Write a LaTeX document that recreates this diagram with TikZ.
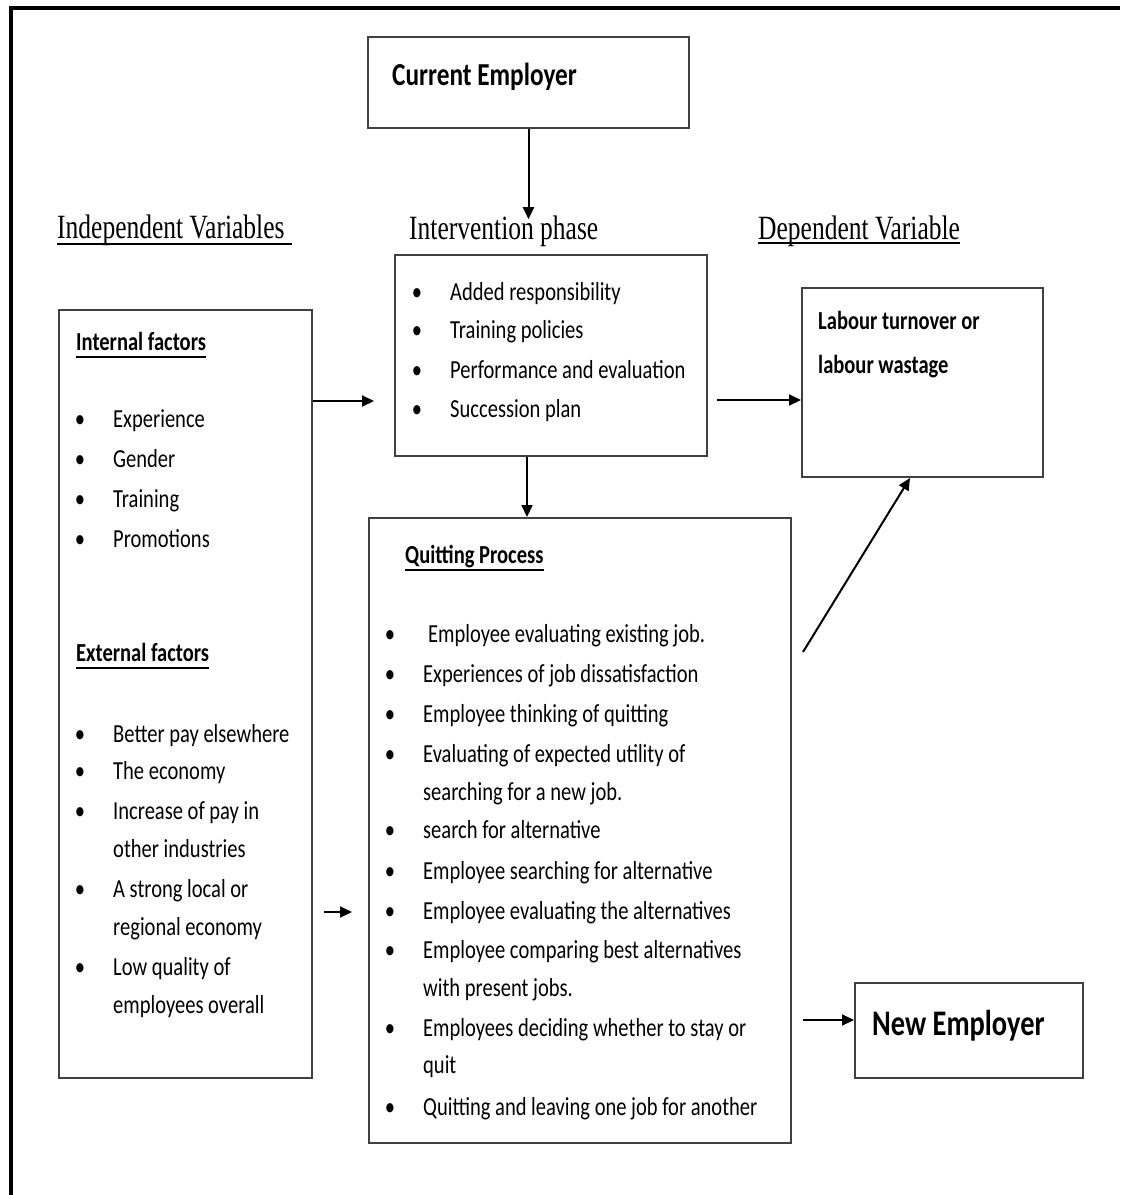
\documentclass[tikz,border=0pt]{standalone}
\usepackage{fontspec}
\setmainfont{Carlito}[FakeStretch=0.79]
\newfontfamily\headfont{Liberation Serif}[FakeStretch=0.75]
\usetikzlibrary{arrows.meta, positioning}

\begin{document}
\begin{tikzpicture}[x=1pt, y=-1pt, font=\fontsize{26}{30}\selectfont, box/.style={draw=black!75, line width=2pt, inner sep=0pt}, arr/.style={line width=2pt, -{Triangle[length=12pt, width=11pt]}}, item/.style={anchor=base west, inner sep=0pt}, bitem/.style={item, font=\fontsize{26}{30}\selectfont\bfseries}, dot/.style={anchor=base, inner sep=0pt}, head/.style={anchor=base west, inner sep=0pt, font=\fontsize{34}{40}\selectfont\headfont}, bighead/.style={anchor=base west, inner sep=0pt, font=\bfseries}, uline/.style={line width=1.8pt}]
\useasboundingbox (0,0) rectangle (1120,1195);
\draw[line width=4pt] (10.5,1195) -- (10.5,7.5) -- (1120,7.5);
% boxes
\node[box, minimum width=321pt, minimum height=91pt] (cur) at (528.5,82.5){};
\node[box, minimum width=312pt, minimum height=201pt] (iv) at (551,355){};
\node[box, minimum width=241pt, minimum height=189pt] (lab) at (922.5,382.5){};
\node[box, minimum width=253pt, minimum height=768pt] (fac) at (185.5,694){};
\node[box, minimum width=422pt, minimum height=625pt] (quit) at (580,830.5){};
\node[box, minimum width=228pt, minimum height=95pt] (new) at (969,1030.5){};
\node[bighead, font=\fontsize{32}{38}\selectfont\bfseries] (curtxt) at (392,85){Current Employer};
\node[bighead, font=\fontsize{36}{42}\selectfont\bfseries] (newtxt) at (872,1035){New Employer};
% headings
\node[head] (indep) at (57,238){Independent Variables\hspace*{7pt}};
\node[head] (interv) at (409,239){Intervention phase};
\node[head] (dep) at (758,239){Dependent Variable};
\draw[uline] ([yshift=-6pt]indep.base west) -- ([yshift=-6pt]indep.base east);
\draw[uline] ([yshift=-4pt]dep.base west) -- ([yshift=-4pt]dep.base east);
% intervention
\foreach \y/\txt in {300/Added responsibility, 338/Training policies, 378/Performance and evaluation, 417/Succession plan} {\node[dot] (ivb\y) at (417,\y){\textbullet}; \node[item] (ivt\y) at (450,\y){\txt};}
% dependent
\node[bitem] (lab1) at (818,329){Labour turnover or};
\node[bitem] (lab2) at (818,373){labour wastage};
% factors
\node[bitem] (intf) at (76,350){Internal factors};
\node[bitem] (extf) at (76,661){External factors};
\draw[uline] ([yshift=-7pt]intf.base west) -- ([yshift=-7pt]intf.base east);
\draw[uline] ([yshift=-7pt]extf.base west) -- ([yshift=-7pt]extf.base east);
\foreach \y in {427, 467, 507, 547, 742, 779, 819, 897, 975} {\node[dot] (fb\y) at (80,\y){\textbullet};}
\foreach \y/\txt in {427/Experience, 467/Gender, 507/Training, 547/Promotions, 742/Better pay elsewhere, 779/The economy, 819/Increase of pay in, 857/other industries, 897/A strong local or, 935/regional economy, 975/Low quality of, 1013/employees overall} {\node[item] (ft\y) at (113,\y){\txt};}
% quitting
\node[bitem] (qp) at (405,563){Quitting Process};
\draw[uline] ([yshift=-7pt]qp.base west) -- ([yshift=-7pt]qp.base east);
\foreach \y in {642, 682, 722, 762, 838, 879, 919, 958, 1036, 1115} {\node[dot] (qb\y) at (390,\y){\textbullet};}
\node[item] (qt642) at (428,642){Employee evaluating existing job.};
\foreach \y/\txt in {682/Experiences of job dissatisfaction, 722/Employee thinking of quitting, 762/Evaluating of expected utility of, 800/searching for a new job., 838/search for alternative, 879/Employee searching for alternative, 919/Employee evaluating the alternatives, 958/Employee comparing best alternatives, 996/with present jobs., 1036/Employees deciding whether to stay or, 1073/quit, 1115/Quitting and leaving one job for another} {\node[item] (qt\y) at (423,\y){\txt};}
% arrows
\draw[arr] (cur.south) -- ([yshift=-4pt]interv.north -| cur.south);
\draw[arr] (iv.south -| 527,0) -- (quit.north -| 527,0);
\draw[arr] (fac.east |- 0,401) -- ([xshift=-20pt]iv.west |- 0,401);
\draw[arr] ([xshift=9pt]iv.east |- 0,400) -- (lab.west |- 0,400);
\draw[arr] ([xshift=11pt]fac.east |- 0,912) -- ([xshift=-16pt]quit.west |- 0,912);
\draw[arr] ([xshift=11pt]quit.east |- 0,652) -- (lab.south -| 910,0);
\draw[arr] ([xshift=11pt]quit.east |- 0,1020) -- (new.west |- 0,1020);
\end{tikzpicture}
\end{document}
